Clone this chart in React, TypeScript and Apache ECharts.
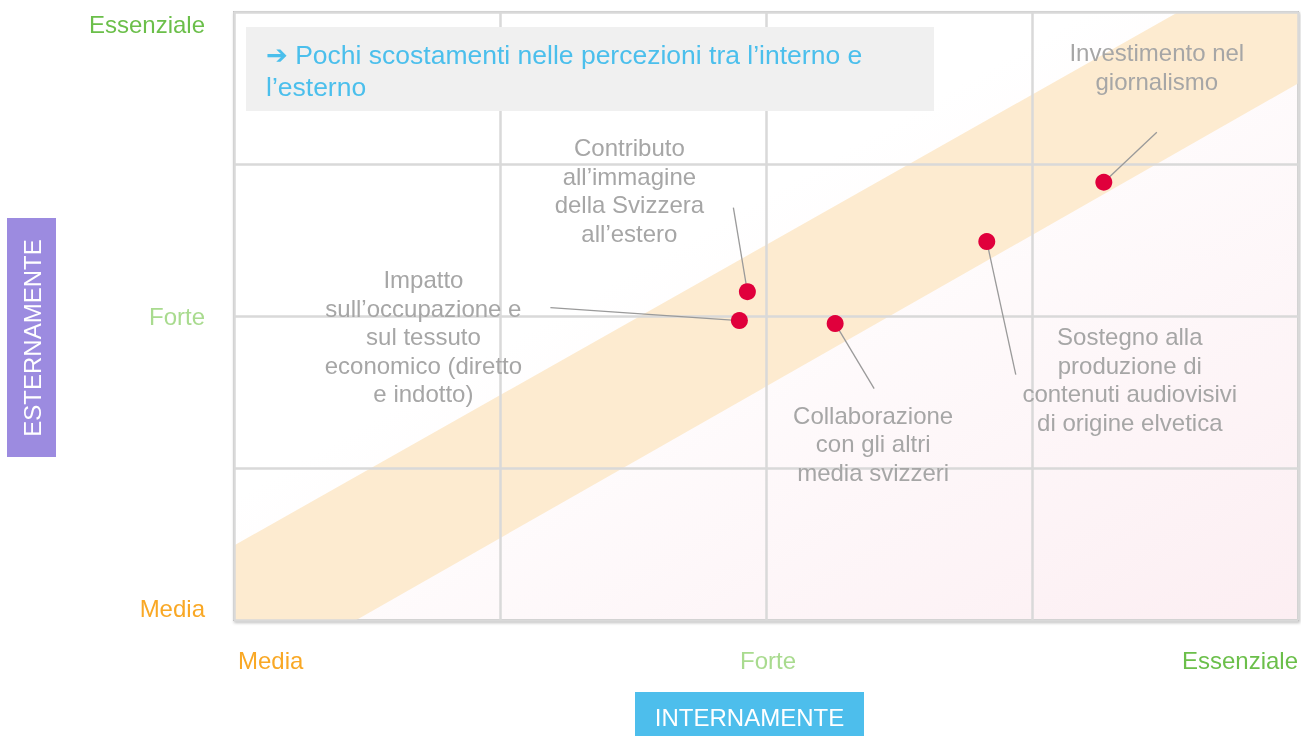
import React, { useEffect, useRef } from "react";
import * as echarts from "echarts";

// ---- data ----
const itemLabels = [
  "Contributo\nall’immagine\ndella Svizzera\nall’estero",
  "Impatto\nsull’occupazione e\nsul tessuto\neconomico (diretto\ne indotto)",
  "Collaborazione\ncon gli altri\nmedia svizzeri",
  "Sostegno alla\nproduzione di\ncontenuti audiovisivi\ndi origine elvetica",
  "Investimento nel\ngiornalismo",
];
const internalScores = [1.93, 1.9, 2.26, 2.83, 3.27];
const externalScores = [2.16, 1.97, 1.95, 2.49, 2.88];
const xTickLabels = ["Media", "", "Forte", "", "Essenziale"];
const yTickLabels = ["Media", "", "Forte", "", "Essenziale"];
const tickColors = ["#F9A825", "", "#A9DB8F", "", "#6BBF4A"];
// consensus band (data coordinates)
const bandVertices = [
  [0, 0],
  [0, 0.49],
  [3.55, 4],
  [4, 4],
  [4, 3.53],
  [0.46, 0],
];
const noteText = "{a|➔} Pochi scostamenti nelle percezioni tra l’interno e\nl’esterno";
const xAxisTitle = "INTERNAMENTE";
const yAxisTitle = "ESTERNAMENTE";

// ---- layout (pixel offsets from each point) ----
const labelOffsets = [
  [-118, -101],
  [-316, 16],
  [38, 120],
  [143, 138],
  [53, -115],
];
const leaderEnds = [
  [-14, -84],
  [-189, -13],
  [39, 65],
  [29, 133],
  [53, -50],
];

const FONT = "'Liberation Sans', Arial, Helvetica, sans-serif";

export default function App() {
  const ref = useRef<HTMLDivElement>(null);
  useEffect(() => {
    if (!ref.current) return;
    const chart = echarts.init(ref.current, null, { renderer: "svg" });
    const axisCommon = {
      type: "value",
      min: 0,
      max: 4,
      interval: 1,
      z: 2,
      axisLine: { show: false },
      axisTick: { show: false },
      splitLine: { show: true, lineStyle: { color: "#D9D9D9", width: 2.5 } },
    };
    chart.setOption({
      animation: false,
      textStyle: { fontFamily: FONT },
      grid: {
        left: 234,
        right: 3,
        top: 12,
        bottom: 116,
        show: true,
        borderColor: "#C4C4C4",
        borderWidth: 2,
        shadowColor: "rgba(0,0,0,0.25)",
        shadowBlur: 3,
        shadowOffsetX: 1,
        shadowOffsetY: 2,
        backgroundColor: {
          type: "linear",
          x: 0,
          y: 0,
          x2: 1,
          y2: 1,
          colorStops: [
            { offset: 0, color: "#FFFFFF" },
            { offset: 0.4, color: "#FFFFFF" },
            { offset: 1, color: "#FCEEF2" },
          ],
        },
      },
      xAxis: {
        ...axisCommon,
        axisLabel: {
          margin: 28,
          fontSize: 24,
          fontFamily: FONT,
          formatter: (v: number) => xTickLabels[Math.round(v)] || "",
          color: (v: any) => tickColors[Math.round(Number(v))] || "#999",
          alignMinLabel: "left",
          alignMaxLabel: "right",
          padding: [0, 0, 0, 4],
        },
      },
      yAxis: {
        ...axisCommon,
        axisLabel: {
          margin: 29,
          fontSize: 24,
          fontFamily: FONT,
          formatter: (v: number) => yTickLabels[Math.round(v)] || "",
          color: (v: any) => tickColors[Math.round(Number(v))] || "#999",
          verticalAlignMinLabel: "bottom",
          verticalAlignMaxLabel: "top",
        },
      },
      series: [
        {
          type: "custom",
          z: 1,
          silent: true,
          data: [0],
          renderItem: (_params: any, api: any) => {
            const pts = bandVertices.map((p) => api.coord(p));
            return {
              type: "polygon",
              shape: { points: pts },
              style: { fill: "#FDEBD0" },
            };
          },
        },
        {
          type: "scatter",
          z: 5,
          symbolSize: 17,
          itemStyle: { color: "#E0003C", opacity: 1 },
          data: internalScores.map((x, i) => [x, externalScores[i]]),
        },
      ],
    });

    const gfx: any[] = [];
    internalScores.forEach((x, i) => {
      const p = chart.convertToPixel({ gridIndex: 0 }, [x, externalScores[i]]) as number[];
      gfx.push({
        type: "line",
        z: 4,
        shape: { x1: p[0], y1: p[1], x2: p[0] + leaderEnds[i][0], y2: p[1] + leaderEnds[i][1] },
        style: { stroke: "#9A9A9A", lineWidth: 1.3 },
      });
      gfx.push({
        type: "text",
        z: 6,
        x: p[0] + labelOffsets[i][0],
        y: p[1] + labelOffsets[i][1],
        style: {
          text: itemLabels[i],
          fill: "#A6A6A6",
          font: `24px ${FONT}`,
          lineHeight: 28.5,
          align: "center",
          verticalAlign: "middle",
        },
      });
    });
    // note box
    gfx.push({
      type: "rect",
      z: 10,
      shape: { x: 246, y: 27, width: 688, height: 84 },
      style: { fill: "#F0F0F0" },
    });
    gfx.push({
      type: "text",
      z: 11,
      x: 266,
      y: 71,
      style: {
        text: noteText,
        fill: "#4BBFEC",
        fontFamily: FONT,
        fontSize: 26.5,
        lineHeight: 32,
        align: "left",
        verticalAlign: "middle",
        rich: {
          a: {
            fontFamily: "'DejaVu Sans', sans-serif",
            fontWeight: "bold",
            fontSize: 26,
            fill: "#4BBFEC",
            lineHeight: 32,
          },
        },
      },
    });
    // y axis title box
    gfx.push({
      type: "rect",
      z: 10,
      shape: { x: 7, y: 218, width: 49, height: 239 },
      style: { fill: "#9C8BE0" },
    });
    gfx.push({
      type: "text",
      z: 11,
      x: 32,
      y: 338,
      rotation: Math.PI / 2,
      style: {
        text: yAxisTitle,
        fill: "#FFFFFF",
        font: `24px ${FONT}`,
        align: "center",
        verticalAlign: "middle",
      },
    });
    // x axis title box
    gfx.push({
      type: "rect",
      z: 10,
      shape: { x: 635, y: 692, width: 229, height: 50 },
      style: { fill: "#4DBEEC" },
    });
    gfx.push({
      type: "text",
      z: 11,
      x: 749.5,
      y: 717,
      style: {
        text: xAxisTitle,
        fill: "#FFFFFF",
        font: `24px ${FONT}`,
        align: "center",
        verticalAlign: "middle",
      },
    });
    chart.setOption({ graphic: { elements: gfx } });

    return () => chart.dispose();
  }, []);
  return (
    <div
      ref={ref}
      style={{ position: "fixed", left: 0, top: 0, width: 1301, height: 736 }}
    />
  );
}
